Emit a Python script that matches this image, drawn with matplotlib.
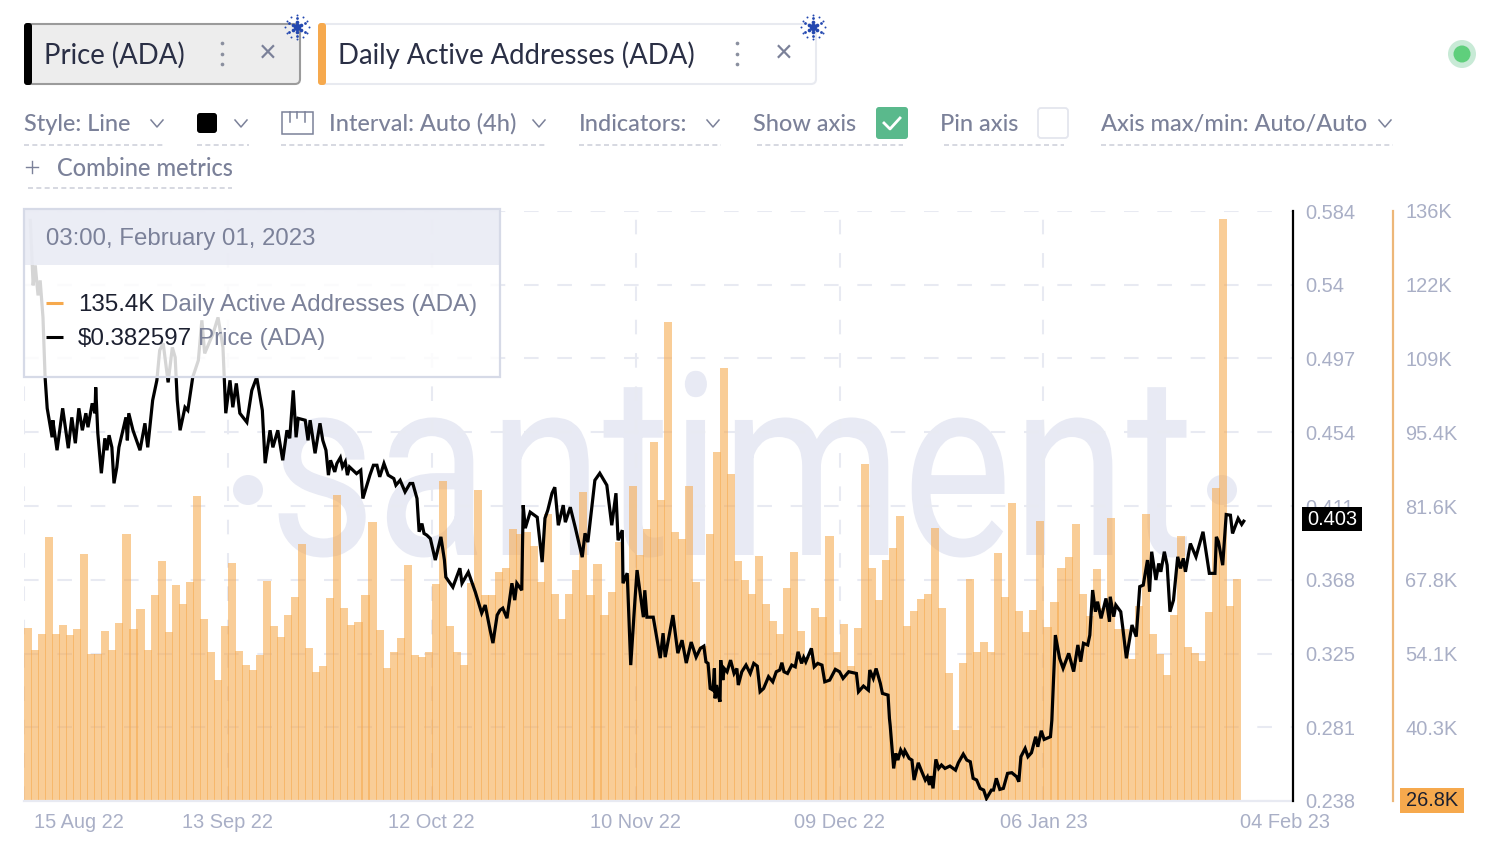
import matplotlib
matplotlib.use('Agg')
import matplotlib.pyplot as plt
import matplotlib.patheffects as pe
from matplotlib.patches import FancyBboxPatch, Rectangle, Circle
from matplotlib.transforms import Affine2D, ScaledTranslation
import numpy as np

# daily active addresses, thousands, one bar a day from 15 Aug 22
daa = [58.9, 54.7, 57.8, 75.7, 57.8, 59.3, 57.5, 58.6, 72.6, 54.1, 54.1, 58.3, 54.7, 59.7, 76.2, 58.6, 62.4, 54.7,
       64.9, 71.3, 58.1, 66.7, 63.3, 67.3, 83.2, 60.4, 54.4, 49.2, 59.2, 70.8, 54.6, 51.9, 51.0, 53.8, 67.5, 59.2,
       57.2, 61.3, 64.6, 74.4, 55.1, 50.7, 51.8, 64.4, 83.4, 62.5, 59.3, 59.9, 64.9, 78.4, 58.4, 51.4, 54.4, 56.9,
       70.4, 53.8, 53.4, 54.4, 66.9, 86.0, 59.1, 54.4, 52.0, 67.1, 84.4, 64.9, 64.9, 69.2, 70.0,
       77.1, 76.3, 76.5, 74.0, 67.4, 80.0, 65.2, 60.4, 65.2, 69.5, 84.0, 64.9, 70.6, 61.2, 65.4, 74.8, 68.6, 85.1,
       72.3, 77.1, 93.3, 82.5, 115.5, 76.6, 75.2, 85.1, 67.4, 55.4, 76.2, 91.4, 106.9, 87.4, 71.2, 67.7, 65.1, 72.1,
       63.3, 60.2, 57.7, 66.3, 72.9, 58.3, 53.5, 62.6, 60.9, 75.8, 54.4, 59.6, 51.7, 58.9, 89.2, 70.0, 64.0, 71.4,
       73.7, 79.6,
       59.1, 61.9, 64.1, 65.1, 77.4, 62.5, 50.4, 40.0, 52.4, 67.8, 54.4, 56.2, 54.3, 72.7, 64.6, 81.9, 61.9, 58.1,
       62.1, 78.6, 59.0, 63.6, 70.0, 71.9, 78.0, 65.1, 61.1, 69.8, 62.5, 79.1, 58.7, 58.7, 53.0, 62.9, 79.9, 57.7,
       54.0, 50.2, 61.3, 75.9, 55.3, 54.2, 52.7, 61.7, 84.8, 134.5, 62.9, 67.8]

# price trace, days since 15 Aug 22 and usd
price_days = [0.9, 1.3, 1.6, 2.0, 2.3, 2.7, 3.0, 3.3, 4.0, 4.1, 4.7, 5.5, 6.3, 6.8, 7.3, 7.8, 8.3, 8.8, 9.1, 9.7, 10.1,
              10.2, 10.5, 11.0, 11.5, 11.8, 12.1, 12.5, 12.8, 13.2, 13.5, 14.5, 14.7, 14.9, 15.5, 16.5, 17.2, 17.6,
              18.3, 18.9, 19.3, 19.8, 20.5, 21.1, 21.5, 21.8, 22.2, 22.9, 23.3, 24.0, 24.8, 25.3, 25.7, 26.9, 27.6,
              28.3, 28.7, 29.3, 29.7, 30.2, 30.7, 31.7, 32.4, 33.1, 33.9, 34.3, 35.0, 35.4, 36.1, 36.8, 37.4, 37.8,
              38.3, 38.7, 39.0, 40.0, 40.4, 40.7, 41.4, 42.1, 42.5,
              42.95, 43.3, 43.6, 44.2, 44.5, 45.0, 45.3, 45.7, 46.0, 46.3, 47.3, 47.9, 48.2, 49.2, 49.7, 50.2, 50.6,
              51.2, 51.8, 52.6, 52.9, 53.5, 54.2, 54.9, 55.3, 55.9, 56.2, 56.6, 56.9, 57.3, 57.8, 58.5, 59.3, 59.8,
              60.0, 61.0, 62.0, 62.3, 63.2, 64.2, 65.1, 65.6, 66.3, 66.7, 67.3, 67.7, 68.1, 68.7, 69.4, 69.8, 70.1,
              70.8, 71.0, 71.3, 72.0, 73.0, 73.7, 74.1, 74.5, 75.1, 75.5, 76.0, 76.7, 77.0, 77.7, 78.4, 79.4, 79.8,
              80.2, 81.2, 81.9, 82.9, 83.6, 84.2, 84.5, 85.1, 85.2, 85.8, 86.3, 86.9, 87.2, 88.1, 88.3, 88.6, 89.5,
              90.5, 90.9, 91.2, 92.3, 93.0, 93.6, 94.2, 94.9, 95.6,
              96.2, 96.7, 97.0, 97.3, 97.6, 98.0, 98.2, 98.3, 98.5, 98.8, 99.0, 99.1, 99.4, 99.6, 100.0, 100.5, 101.0,
              101.4, 101.6, 102.1, 102.7, 103.3, 103.8, 104.3, 104.7, 105.2, 105.9, 106.5, 107.0, 107.5, 107.8,
              108.1, 108.6, 109.2, 109.7, 110.1, 110.6, 110.9, 111.2, 112.0, 112.4, 112.9, 113.5, 113.9, 114.6,
              115.4, 116.0, 116.5, 117.3, 118.4, 118.7, 119.4, 120.1, 120.3, 120.8, 121.2, 121.8, 122.1, 122.9, 123.1,
              123.2, 123.7, 124.0, 124.3, 124.7, 125.1, 125.3, 125.9, 126.3, 126.6, 127.2, 127.7, 128.2, 128.5,
              128.8, 129.0, 129.3, 129.7, 130.1, 130.5, 131.0, 131.7, 132.5, 132.9, 133.6, 134.1, 134.6, 135.0,
              135.5, 136.0, 136.5, 136.9, 137.6, 137.9, 138.3, 138.8, 139.3, 139.9, 140.5, 141.2, 141.5, 141.8,
              142.4, 142.8, 143.3, 143.9, 144.2, 144.7, 145.1, 146.0, 146.2,
              146.7, 147.3, 147.8, 148.6, 149.3, 149.9, 150.3, 150.7, 151.3, 151.6, 152.0, 152.4, 152.7, 153.2,
              153.9, 154.4, 154.5, 155.0, 155.3, 156.0, 156.3, 156.8, 157.6, 158.2, 158.7, 159.2, 159.8, 160.1,
              160.4, 161.0, 161.4, 161.7, 162.2, 162.6, 163.0, 163.5, 164.1, 164.5, 164.9, 165.2, 165.9, 166.7,
              167.7, 168.6, 169.4, 169.6, 169.9, 170.5, 171.0, 171.6, 171.9, 172.7, 173.2, 173.5]
price_usd = [.5785, .5404, .5521, .5345, .5433, .5216, .4865, .4683, .4513, .4613, .4437, .4683, .4449, .4630, .4478,
             .4683, .4554, .4654, .4572, .4712, .4654, .4806, .4536, .4302, .4507, .4437, .4525, .4454, .4243, .4337,
             .4454, .4630, .4495, .4654, .4554, .4437, .4595, .4454, .4730, .4847, .5023, .5064, .4835, .5040, .4982,
             .4730, .4554, .4689, .4671, .4865, .4964, .5199, .5005, .5122, .5216, .5040, .4654, .4847, .4689, .4829,
             .4654, .4601, .4788, .4865, .4671, .4361, .4554, .4454, .4554, .4378, .4554, .4507, .4788, .4513, .4624,
             .4613, .4495, .4613, .4419, .4595, .4495,
             .4437, .4291, .4378, .4310, .4359, .4394, .4339, .4369, .4291, .4339, .4300, .4320, .4154, .4291, .4349,
             .4349, .4281, .4359, .4291, .4271, .4232, .4261, .4193, .4242, .4242, .4154, .3959, .4007, .3949, .3939,
             .3919, .3793, .3929, .3793,
             .3693, .3634, .3745, .3657, .3722, .3605, .3482, .3529, .3382, .3306, .3470, .3499, .3511, .3452, .3657,
             .3558, .3657, .3616, .4115, .3980, .4074, .4044, .3781, .4038, .4085, .4185, .4220, .3997, .4115, .4015,
             .4103, .3986, .3810, .3950, .3898, .4261, .4302, .4232, .3997, .4185, .3909, .3968, .3657, .3716, .3177,
             .3558, .3734, .3458, .3616, .3458, .3458, .3218, .3364, .3224, .3470, .3247, .3323, .3189, .3312, .3224,
             .3275, .3288, .3196, .3187, .3040, .3030, .3157, .2982, .3060, .2991, .2962, .3206, .3089, .3157, .3138,
             .3206, .3128, .3157, .3060, .3138, .3177, .3128, .3187, .3171, .3021, .3040, .3109, .3079, .3138, .3148,
             .3191, .3138, .3128, .3177, .3167, .3255, .3187, .3222, .3196, .3275, .3167, .3187, .3177, .3079, .3089,
             .3152, .3138, .3099, .3138, .3128, .3021, .3054, .3030, .3148, .3099, .3157, .3070, .3011, .3001, .2864,
             .2825, .2571, .2659, .2620, .2679, .2649, .2675, .2630, .2620, .2503, .2604, .2552, .2503, .2522,
             .2474, .2526, .2454, .2624, .2571, .2591, .2571, .2585, .2561, .2604, .2655, .2620, .2610, .2513,
             .2503, .2454, .2444, .2395, .2444, .2444, .2513, .2448, .2454, .2542, .2546, .2522, .2493, .2640,
             .2688, .2640, .2663, .2757, .2698, .2792, .2741, .2757, .2854,
             .3353, .3217, .3158, .3246, .3139, .3295, .3197, .3305, .3295, .3353, .3617, .3490, .3549, .3451,
             .3568, .3431, .3578, .3461, .3529, .3490, .3392, .3217, .3412, .3344, .3637, .3646, .3793, .3607,
             .3842, .3676, .3773, .3724, .3842, .3763, .3490, .3558, .3812, .3744, .3803, .3724, .3890, .3812,
             .3959, .3715, .3715, .3929, .3900, .3763, .4060, .4056, .3949, .4037, .4002, .4021]

date_ticks = [0, 29, 58, 87, 116, 145]
date_labels = ['15 Aug 22', '13 Sep 22', '12 Oct 22', '10 Nov 22', '09 Dec 22', '06 Jan 23']
price_labels = ['0.238', '0.281', '0.325', '0.368', '0.411', '0.454', '0.497', '0.54', '0.584']
daa_labels = ['', '40.3K', '54.1K', '67.8K', '81.6K', '95.4K', '109K', '122K', '136K']

ORANGE = '#f6a94d'
GRID = '#e8eaf2'
TICK = '#a9afc6'
MUTED = '#7b8199'
DARK = '#2a2f45'
FONT = 'Liberation Sans'
UI_FONT = 'Lato'

W, H = 1510, 850
fig = plt.figure(figsize=(W / 100, H / 100), dpi=100)


class Squeeze(pe.AbstractPathEffect):
    # no condensed font here, so narrow the watermark around its left edge
    def __init__(self, sx, x0):
        super().__init__()
        self.sx = sx
        self.x0 = x0

    def draw_path(self, renderer, gc, tpath, affine, rgbFace=None):
        squeeze = Affine2D().translate(-self.x0, 0).scale(self.sx, 1).translate(self.x0, 0)
        renderer.draw_path(gc, tpath, affine + squeeze, rgbFace)


# full size pixel layers for the page around the chart
bg = fig.add_axes([0, 0, 1, 1], zorder=0)
ui = fig.add_axes([0, 0, 1, 1], zorder=5)
for a in (bg, ui):
    a.set_xlim(0, W)
    a.set_ylim(H, 0)
    a.axis('off')
ui.patch.set_visible(False)

# watermark
bg.text(269, 555, 'santiment', family='Roboto', fontsize=184, color='#e8eaf4', va='baseline', ha='left',
        path_effects=[Squeeze(0.81, 269)])
bg.add_patch(Circle((248, 490), 15, color='#e8eaf4', lw=0))
bg.add_patch(Circle((1222, 490), 15, color='#e8eaf4', lw=0))

# chart
ax = fig.add_axes([24 / W, (H - 801) / H, 1269 / W, 590 / H], zorder=1)
ax2 = ax.twinx()
ax.patch.set_visible(False)
ax.set_axisbelow(True)
ax.bar(np.arange(len(daa)), daa, width=1.15, align='edge', color=ORANGE, alpha=0.58, lw=0)
ax.set_xlim(0, 180.5)
ax.set_ylim(26.8, 136)
ax.spines['right'].set_position(('outward', 72))  # this resets the ticks, so do it before setting them
ax.spines['right'].set_color('#edb779')
ax.spines['right'].set_linewidth(1.6)
ax.spines['top'].set_visible(False)
ax.spines['left'].set_visible(False)
ax.spines['bottom'].set_color(GRID)
ax.spines['bottom'].set_linewidth(1.6)
ax.yaxis.tick_right()
ax.set_yticks(np.linspace(26.8, 136, 9), daa_labels, family=FONT, fontsize=14.4, color=TICK)
ax.tick_params(axis='y', length=0, pad=8.7)
ax.set_xticks(date_ticks, date_labels, family=FONT, fontsize=14.4, color=TICK)
ax.tick_params(axis='x', length=0, pad=8.9)
ax.grid(True, color=GRID, lw=1.5, dashes=(7, 9))
first = ax.get_xticklabels()[0]
first.set_ha('left')
first.set_transform(first.get_transform() + ScaledTranslation(10 / 100, 0, fig.dpi_scale_trans))
ax.annotate('04 Feb 23', xy=(1240, 823), xycoords=ui.transData, family=FONT, fontsize=14.4, color=TICK,
            ha='left', va='center')

ax2.patch.set_visible(False)
ax2.plot(price_days, price_usd, color='black', lw=2.3, solid_joinstyle='miter')
ax2.set_ylim(0.238, 0.584)
ax2.set_yticks(np.linspace(0.238, 0.584, 9), price_labels, family=FONT, fontsize=14.4, color=TICK)
ax2.tick_params(axis='y', length=0, pad=8.7)
for side in ('top', 'left', 'bottom'):
    ax2.spines[side].set_visible(False)
ax2.spines['right'].set_color('black')
ax2.spines['right'].set_linewidth(1.6)

# value tags on the axes
ui.add_patch(Rectangle((1302, 507), 60, 24, color='black', lw=0))
ui.text(1332, 519.5, '0.403', family=FONT, fontsize=14.4, color='white', ha='center', va='center')
ui.add_patch(Rectangle((1400, 788), 64, 25, color=ORANGE, lw=0))
ui.text(1432, 800.5, '26.8K', family=FONT, fontsize=14.4, color='#1c2030', ha='center', va='center')

# tooltip
ui.add_patch(Rectangle((24, 209), 476, 168, facecolor='white', alpha=0.84, lw=0))
ui.add_patch(Rectangle((24, 209), 476, 56, facecolor='#e9ebf4', alpha=0.9, lw=0))
ui.add_patch(Rectangle((24, 209), 476, 168, fill=False, edgecolor='#d6dae7', lw=1.6))
ui.text(46, 239, '03:00, February 01, 2023', family=FONT, fontsize=17.3, color=MUTED, va='center')
ui.plot([46, 63], [303, 303], color=ORANGE, lw=2.2, solid_capstyle='butt')
ui.plot([46, 63], [337, 337], color='black', lw=2.2, solid_capstyle='butt')
ui.text(78, 305, '135.4K', family=FONT, fontsize=17.4, color='#1c2030', va='center')
ui.text(161, 305, 'Daily Active Addresses (ADA)', family=FONT, fontsize=17.4, color=MUTED, va='center')
ui.text(78, 339, '$0.382597', family=FONT, fontsize=17.4, color='#1c2030', va='center')
ui.text(198, 339, 'Price (ADA)', family=FONT, fontsize=17.4, color=MUTED, va='center')

# metric tabs
ui.add_patch(FancyBboxPatch((27, 24), 273, 60, boxstyle='round,pad=0,rounding_size=5', fc='#ededed', ec='#9b9b9b', lw=1.5))
ui.add_patch(FancyBboxPatch((24, 23), 8, 62, boxstyle='round,pad=0,rounding_size=3', fc='black', ec='none'))
ui.add_patch(FancyBboxPatch((321, 24), 495, 60, boxstyle='round,pad=0,rounding_size=5', fc='white', ec='#e8eaf0', lw=1.5))
ui.add_patch(FancyBboxPatch((318, 23), 8, 62, boxstyle='round,pad=0,rounding_size=3', fc=ORANGE, ec='none'))
ui.text(44, 55, 'Price (ADA)', family=UI_FONT, fontsize=19.8, color=DARK, va='center')
ui.text(338, 55, 'Daily Active Addresses (ADA)', family=UI_FONT, fontsize=19.8, color=DARK, va='center')
for x in (222, 737):
    ui.scatter([x, x, x], [43, 54, 64], s=7, color='#8a8f9f', lw=0)
for x in (268, 784):
    ui.text(x, 54, '\u00d7', family=FONT, fontsize=22, color=MUTED, ha='center', va='center')

# cardano marks on the tabs
for cx in (297, 813):
    for r, n, s in ((0, 1, 28), (5, 6, 7), (9, 6, 4), (12, 12, 2)):
        ang = np.arange(n) * 2 * np.pi / n + np.pi / 2
        ui.scatter(cx + r * np.cos(ang), 27 + r * np.sin(ang), s=s, color='#2448b0', lw=0)

# status dot
ui.add_patch(Circle((1462, 54), 14, color='#c8ead6', lw=0))
ui.add_patch(Circle((1462, 54), 8.5, color='#5fcf7c', lw=0))

# settings row
settings = [(24, 'Style: Line'), (329, 'Interval: Auto (4h)'), (579, 'Indicators:'), (753, 'Show axis'),
            (940, 'Pin axis'), (1101, 'Axis max/min: Auto/Auto')]
for x, label in settings:
    ui.text(x, 124, label, family=UI_FONT, fontsize=16.9, weight='medium', color=MUTED, va='center')
ui.text(57, 168, 'Combine metrics', family=UI_FONT, fontsize=17, weight='medium', color=MUTED, va='center')
ui.plot([26, 38], [167, 167], color=MUTED, lw=1)
ui.plot([32, 32], [161, 173], color=MUTED, lw=1)
for x in (157, 241, 539, 713, 1385):
    ui.plot([x - 6, x, x + 6], [120, 127, 120], color=MUTED, lw=1.1)
for x0, x1, y in ((24, 165, 145), (197, 249, 145), (281, 547, 145), (579, 721, 145), (757, 903, 145),
                  (944, 1064, 145), (1101, 1393, 145), (28, 232, 188)):
    ui.plot([x0, x1], [y, y], color='#cfd2dc', lw=1.2, dashes=(3, 2))
ui.add_patch(FancyBboxPatch((197, 113), 20, 20, boxstyle='round,pad=0,rounding_size=3', fc='black', ec='none'))
ui.add_patch(Rectangle((282, 112), 31, 22, fill=False, edgecolor=MUTED, lw=1.1))
for x, y1 in ((290, 122), (297, 118), (305, 122)):
    ui.plot([x, x], [112, y1], color=MUTED, lw=1.1)
ui.add_patch(FancyBboxPatch((876, 107), 32, 32, boxstyle='round,pad=0,rounding_size=3', fc='#5ab98c', ec='none'))
ui.plot([884, 890, 900], [123, 129, 118], color='white', lw=2)
ui.add_patch(FancyBboxPatch((1038, 108), 30, 30, boxstyle='round,pad=0,rounding_size=3', fc='white', ec='#e4e6ee', lw=1.3))

fig.savefig('out.png', dpi=100)
